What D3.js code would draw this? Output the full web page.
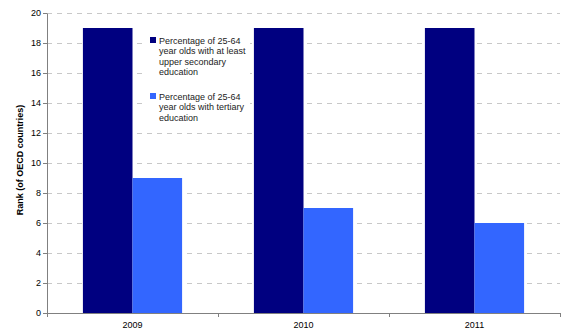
<!DOCTYPE html>
<html>
<head>
<meta charset="utf-8">
<script src="https://cdn.jsdelivr.net/npm/d3@7"></script>
<style>
  body { margin: 0; background: #fff; }
  svg { display: block; font-family: "Liberation Sans", Arial, sans-serif; }
</style>
</head>
<body>
<svg id="chart" width="564" height="331"></svg>
<script>
const years = ["2009", "2010", "2011"];
const seriesNames = [
  "Percentage of 25-64 year olds with at least upper secondary education",
  "Percentage of 25-64 year olds with tertiary education"
];
const upperSecondary = [19, 19, 19];
const tertiary = [9, 7, 6];
const yTicks = [0, 2, 4, 6, 8, 10, 12, 14, 16, 18, 20];
const colors = ["#000080", "#3366FF"];

const svg = d3.select("#chart");
const margin = { left: 47, right: 4, top: 13, bottom: 18 };
const W = 564, H = 331;

const x = d3.scaleBand().domain(years).range([margin.left, W - margin.right]).paddingInner(0).paddingOuter(0);
const xs = d3.scaleBand().domain([0, 1]).range([0, x.bandwidth()]).paddingInner(0).paddingOuter(0.37 / 0.58 * 0.5 / (1 + 0));
const y = d3.scaleLinear().domain([0, 20]).range([H - margin.bottom, margin.top]);

// inner grouping: two bars occupying ~58% of band, centred
const groupW = x.bandwidth() * 0.58;
const sub = d3.scaleBand().domain([0, 1]).range([(x.bandwidth() - groupW) / 2, (x.bandwidth() + groupW) / 2]);

// dashed gridlines
svg.append("g").selectAll("line").data(yTicks.filter(d => d > 0)).join("line")
  .attr("x1", margin.left).attr("x2", W - margin.right)
  .attr("y1", d => Math.round(y(d)) + 0.5).attr("y2", d => Math.round(y(d)) + 0.5)
  .attr("stroke", "#c8c8c8").attr("stroke-width", 1).attr("stroke-dasharray", "5,5");

// bars
const data = years.map((yr, i) => ({ yr, vals: [upperSecondary[i], tertiary[i]] }));
svg.append("g").selectAll("g").data(data).join("g")
  .attr("transform", d => `translate(${x(d.yr)},0)`)
  .selectAll("rect").data(d => d.vals).join("rect")
  .attr("x", (d, i) => sub(i)).attr("width", sub.bandwidth())
  .attr("y", d => y(d)).attr("height", d => y(0) - y(d))
  .attr("fill", (d, i) => colors[i]);

// y axis
const yAxis = svg.append("g").attr("transform", `translate(${margin.left},0)`)
  .call(d3.axisLeft(y).tickValues(yTicks).tickSize(4).tickSizeOuter(0));
yAxis.select(".domain").attr("stroke", "#808080");
yAxis.selectAll(".tick line").attr("stroke", "#808080");
yAxis.selectAll(".tick text").attr("font-size", 9).attr("fill", "#000").attr("x", -6);

// x axis
const xAxis = svg.append("g").attr("transform", `translate(0,${H - margin.bottom})`)
  .call(d3.axisBottom(x).tickSize(0).tickSizeOuter(0));
xAxis.select(".domain").attr("stroke", "#808080");
xAxis.selectAll(".tick text").attr("font-size", 9).attr("fill", "#000").attr("dy", "1.3em");
// category separators
const seps = [margin.left, ...years.map(d => x(d) + x.bandwidth())];
svg.append("g").selectAll("line").data(seps).join("line")
  .attr("x1", d => Math.round(d) + 0.5).attr("x2", d => Math.round(d) + 0.5)
  .attr("y1", H - margin.bottom).attr("y2", H - margin.bottom + 4)
  .attr("stroke", "#808080");

// y axis title
svg.append("text")
  .attr("transform", `translate(23,${(y(0) + y(20)) / 2 - 3}) rotate(-90)`)
  .attr("text-anchor", "middle").attr("font-size", 9).attr("font-weight", "bold")
  .text("Rank (of OECD countries)");

// legend
const legend = svg.append("g").attr("transform", "translate(146,33)");
legend.append("rect").attr("x", 0).attr("y", 0).attr("width", 104).attr("height", 92).attr("fill", "#fff");
const legendLines = [
  ["Percentage of 25-64", "year olds with at least", "upper secondary", "education"],
  ["Percentage of 25-64", "year olds with tertiary", "education"]
];
const itemY = [0, 56];
legendLines.forEach((lines, i) => {
  const g = legend.append("g").attr("transform", `translate(0,${itemY[i]})`);
  g.append("rect").attr("x", 4).attr("y", 4).attr("width", 6).attr("height", 6).attr("fill", colors[i]);
  g.append("text").attr("x", 13).attr("y", 11).attr("font-size", 9).attr("fill", "#222")
    .selectAll("tspan").data(lines).join("tspan")
    .attr("x", 13).attr("dy", (d, j) => j === 0 ? 0 : 10.3).text(d => d);
});
</script>
</body>
</html>
